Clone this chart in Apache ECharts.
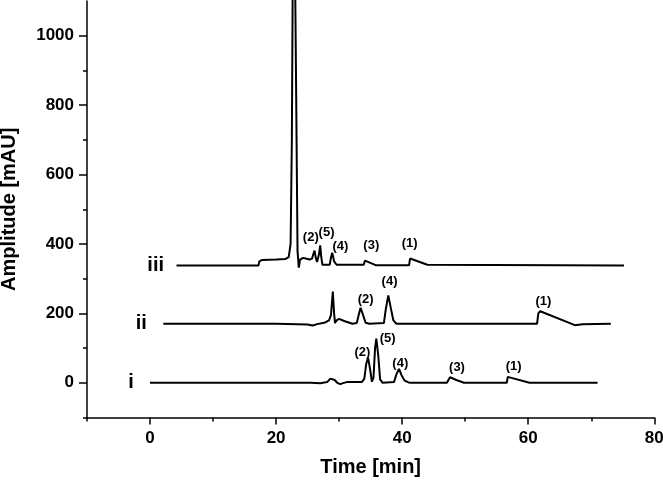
<!DOCTYPE html>
<html>
<head>
<meta charset="utf-8">
<script src="https://cdn.jsdelivr.net/npm/echarts@6/dist/echarts.min.js"></script>
<style>
html,body{margin:0;padding:0;background:#fff;}
#c{width:663px;height:484px;}
</style>
</head>
<body>
<div id="c"></div>
<script>
// Chromatogram traces: [time (min), amplitude (mAU)]
const traceI = [[0,0],[25.5,0],[27,-1],[28.1,2],[28.6,12],[28.9,16],[29.3,8],[29.7,0],[30.2,-4],[30.6,-1],[31.2,2],[33.6,2],[34.0,12],[34.3,55],[34.6,72],[34.9,40],[35.2,3],[35.45,15],[35.7,100],[35.9,127],[36.2,80],[36.5,10],[36.9,0],[38.7,2],[39.1,25],[39.5,40],[39.9,22],[40.4,6],[41,1],[41.5,0],[47.1,0],[47.4,10],[47.6,16],[48.6,8],[49.8,0],[56.6,0],[56.75,17],[57.0,20],[60.2,0],[71.0,0]];
const traceII = [[2.1,170],[20,170],[25,168],[25.8,165],[26.5,169],[27.8,174],[28.4,180],[28.7,195],[29.0,263],[29.2,200],[29.35,172],[29.6,180],[30.0,184],[30.8,178],[32.1,170],[32.8,172],[33.1,195],[33.4,216],[33.8,195],[34.2,173],[34.8,170],[37.1,172],[37.4,212],[37.8,252],[38.2,215],[38.6,180],[39.1,170],[61.4,170],[61.6,200],[61.9,206],[67.4,166],[68.6,169],[73.1,170]];
const traceIII = [[4.2,338],[17.2,338],[17.35,350],[17.8,354],[20,355],[21.5,357],[22.0,362],[22.3,400],[22.5,700],[22.65,1200],[23.0,1200],[23.2,800],[23.4,380],[23.6,332],[23.8,355],[24.3,360],[25.3,355],[25.7,358],[25.9,370],[26.1,381],[26.3,360],[26.5,348],[26.8,370],[27.0,396],[27.15,365],[27.35,340],[28.5,340],[28.7,360],[28.9,375],[29.2,350],[29.6,340],[33.9,340],[34.1,352],[34.4,350],[35.8,339],[41.1,339],[41.25,358],[41.5,360],[44.0,340],[75.2,338]];

// Peak annotations: [time, amplitude, text]
const peakLabels = [
  [33.7,88,'(2)'],[37.7,127,'(5)'],[39.7,56,'(4)'],[48.7,45,'(3)'],[57.7,47,'(1)'],
  [34.2,239,'(2)'],[38.0,292,'(4)'],[62.4,235,'(1)'],
  [25.5,420,'(2)'],[28.0,434,'(5)'],[30.2,393,'(4)'],[35.1,396,'(3)'],[41.2,401,'(1)']
];
// Trace names: [time, amplitude, text]
const traceLabels = [[-3.0,0,'i'],[-1.4,170,'ii'],[0.9,338,'iii']];

// Axis ticks
const xMajorTicks = [0,20,40,60,80];
const xMinorTicks = [-10,10,30,50,70];
const yMajorTicks = [0,200,400,600,800,1000];
const yMinorTicks = [-100,100,300,500,700,900];

const FONT = '"Liberation Sans", Arial, sans-serif';
const chart = echarts.init(document.getElementById('c'), null, {renderer:'canvas'});

const axisLineStyle = {color:'#000', width:1.5};
const plain = v => String(v);
const labelBase = {show:true, position:[0,0], align:'center', verticalAlign:'middle', formatter:p=>p.data[2], fontFamily:FONT, fontWeight:'bold', color:'#000', opacity:1};
chart.setOption({
  animation:false,
  backgroundColor:'#fff',
  grid:{left:87, right:8.7, top:1, bottom:66.5, containLabel:false, outerBoundsMode:'none'},
  xAxis:[{
    type:'value', min:-10, max:80, position:'bottom',
    name:'Time [min]', nameLocation:'middle', nameGap:40,
    nameTextStyle:{fontFamily:FONT, fontWeight:'bold', fontSize:20, color:'#000'},
    axisLine:{show:true, onZero:false, lineStyle:axisLineStyle},
    axisTick:{show:true, inside:false, length:4, customValues:xMinorTicks, lineStyle:axisLineStyle},
    axisLabel:{show:true, customValues:xMajorTicks, formatter:plain, margin:12, fontFamily:FONT, fontWeight:'bold', fontSize:17, color:'#000'},
    splitLine:{show:false}
  },{
    type:'value', min:-10, max:80, position:'bottom', gridIndex:0,
    axisLine:{show:false, onZero:false},
    axisTick:{show:true, inside:false, length:7, customValues:xMajorTicks, lineStyle:axisLineStyle},
    axisLabel:{show:false},
    splitLine:{show:false}
  }],
  yAxis:[{
    type:'value', min:-100, max:1100, position:'left',
    name:'Amplitude [mAU]', nameLocation:'middle', nameGap:68, nameRotate:90,
    nameTextStyle:{fontFamily:FONT, fontWeight:'bold', fontSize:20, color:'#000'},
    axisLine:{show:true, onZero:false, lineStyle:axisLineStyle},
    axisTick:{show:true, inside:false, length:4, customValues:yMinorTicks, lineStyle:axisLineStyle},
    axisLabel:{show:true, customValues:yMajorTicks, formatter:plain, margin:13, fontFamily:FONT, fontWeight:'bold', fontSize:17, color:'#000'},
    splitLine:{show:false}
  },{
    type:'value', min:-100, max:1100, position:'left', gridIndex:0,
    axisLine:{show:false, onZero:false},
    axisTick:{show:true, inside:false, length:8, customValues:yMajorTicks, lineStyle:axisLineStyle},
    axisLabel:{show:false},
    splitLine:{show:false}
  }],
  series:[
    {type:'line', data:traceI, showSymbol:false, symbol:'none', clip:true, lineStyle:{color:'#000', width:2}, z:3},
    {type:'line', data:traceII, showSymbol:false, symbol:'none', clip:true, lineStyle:{color:'#000', width:2}, z:3},
    {type:'line', data:traceIII, showSymbol:false, symbol:'none', clip:true, lineStyle:{color:'#000', width:2}, z:3},
    {type:'scatter', data:peakLabels, symbolSize:0, itemStyle:{color:'#000'}, silent:true,
      label:Object.assign({}, labelBase, {fontSize:13}), z:5},
    {type:'scatter', data:traceLabels, symbolSize:0, itemStyle:{color:'#000'}, silent:true,
      label:Object.assign({}, labelBase, {fontSize:20}), z:5}
  ]
});
</script>
</body>
</html>
